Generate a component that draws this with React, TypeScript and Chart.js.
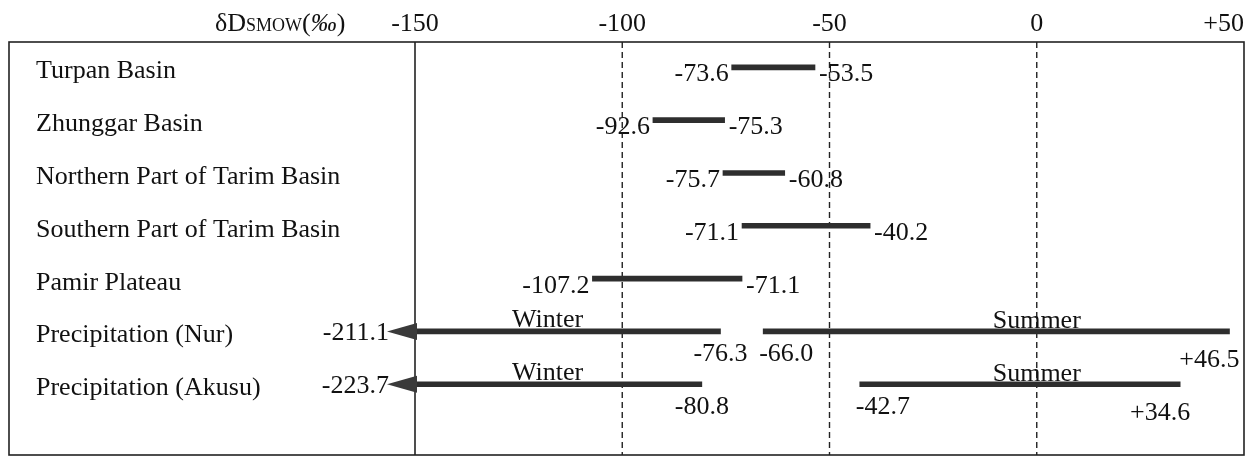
import React, { useEffect, useRef } from "react";
import { Chart, registerables } from "chart.js";

Chart.register(...registerables);

// ---- data ----
const categories = [
  "Turpan Basin",
  "Zhunggar Basin",
  "Northern Part of Tarim Basin",
  "Southern Part of Tarim Basin",
  "Pamir Plateau",
  "Precipitation (Nur)",
  "Precipitation (Akusu)",
];
const rangeLow = [-73.6, -92.6, -75.7, -71.1, -107.2];
const rangeHigh = [-53.5, -75.3, -60.8, -40.2, -71.1];
const winterLow = [-211.1, -223.7];
const winterHigh = [-76.3, -80.8];
const summerLow = [-66.0, -42.7];
const summerHigh = [46.5, 34.6];
const seasonNames = ["Winter", "Summer"];
const seasonLabelX = [-118, 0];
const xTicks = [-150, -100, -50, 0, 50];
const xTickLabels = ["-150", "-100", "-50", "0", "+50"];
const axisMin = -150;
const axisMax = 50;

const SERIF = '"Liberation Serif", "DejaVu Serif", serif';
const FS = 26;
const INK = "#111";
const BAR = "#2e2e2e";

const fmt = (v: number) => (v > 0 ? "+" + v.toFixed(1) : v.toFixed(1));

const decoPlugin = {
  id: "deco",
  beforeDatasetsDraw(chart: any) {
    const { ctx, chartArea } = chart;
    const xs = chart.scales.x;
    const boxLeft = 9;
    ctx.save();
    ctx.strokeStyle = "#222";
    ctx.lineWidth = 1.6;
    ctx.strokeRect(boxLeft, chartArea.top, chartArea.right - boxLeft, chartArea.bottom - chartArea.top);
    xTicks.forEach((t) => {
      const px = xs.getPixelForValue(t);
      if (t === axisMax) return;
      ctx.beginPath();
      if (t === axisMin) {
        ctx.setLineDash([]);
        ctx.lineWidth = 1.6;
      } else {
        ctx.setLineDash([6, 4]);
        ctx.lineWidth = 1.4;
      }
      ctx.moveTo(px, chartArea.top);
      ctx.lineTo(px, chartArea.bottom);
      ctx.stroke();
    });
    ctx.restore();
  },
  afterDatasetsDraw(chart: any) {
    const { ctx, chartArea } = chart;
    const xs = chart.scales.x;
    const ys = chart.scales.y;
    ctx.save();
    ctx.fillStyle = INK;
    ctx.textBaseline = "alphabetic";
    const font = (s = FS, style = "") => `${style} ${s}px ${SERIF}`.trim();
    const text = (s: string, x: number, y: number, align: CanvasTextAlign) => {
      ctx.textAlign = align;
      ctx.fillText(s, x, y);
    };
    ctx.font = font();

    // tick labels
    const tickBase = chartArea.top - 11;
    xTicks.forEach((t, i) => {
      const px = xs.getPixelForValue(t);
      if (t === axisMax) text(xTickLabels[i], chartArea.right, tickBase, "right");
      else text(xTickLabels[i], px, tickBase, "center");
    });

    // title δD_SMOW(‰)
    let tx = 215;
    ctx.textAlign = "left";
    ctx.font = font();
    ctx.fillText("δD", tx, tickBase);
    tx += ctx.measureText("δD").width;
    ctx.font = font(18);
    ctx.fillText("SMOW", tx, tickBase);
    tx += ctx.measureText("SMOW").width;
    ctx.font = font();
    ctx.fillText("(", tx, tickBase);
    tx += ctx.measureText("(").width;
    ctx.font = font(FS, "italic");
    ctx.fillText("‰", tx, tickBase);
    tx += ctx.measureText("‰").width;
    ctx.font = font();
    ctx.fillText(")", tx, tickBase);

    // category labels
    categories.forEach((c, i) => {
      const py = ys.getPixelForValue(i + 1);
      text(c, 36, py + 11, "left");
    });

    // range labels
    rangeLow.forEach((lo, i) => {
      const py = ys.getPixelForValue(i + 1);
      text(fmt(lo), xs.getPixelForValue(lo) - 3, py + 14, "right");
      text(fmt(rangeHigh[i]), xs.getPixelForValue(rangeHigh[i]) + 4, py + 14, "left");
    });

    // precipitation rows
    winterLow.forEach((lo, i) => {
      const py = ys.getPixelForValue(6 + i);
      if (lo < axisMin) {
        const x0 = xs.getPixelForValue(axisMin) + 2;
        const tip = x0 - 30;
        ctx.fillStyle = "#3a3a3a";
        ctx.beginPath();
        ctx.moveTo(tip, py);
        ctx.lineTo(x0, py - 8.5);
        ctx.lineTo(x0, py + 8.5);
        ctx.closePath();
        ctx.fill();
        ctx.fillStyle = INK;
        ctx.font = font();
        text(fmt(lo), tip + 2, py + 9, "right");
      }
      ctx.font = font();
      text(fmt(winterHigh[i]), xs.getPixelForValue(winterHigh[i]), py + 30, "center");
      text(fmt(summerLow[i]), xs.getPixelForValue(summerLow[i]) - 4, py + 30, "left");
      text(fmt(summerHigh[i]), xs.getPixelForValue(summerHigh[i]) + 10, py + 36, "right");
      text(seasonNames[0], xs.getPixelForValue(seasonLabelX[0]), py - 4, "center");
      text(seasonNames[1], xs.getPixelForValue(seasonLabelX[1]), py - 3, "center");
    });
    ctx.restore();
  },
};

export default function App() {
  const ref = useRef<HTMLCanvasElement | null>(null);
  useEffect(() => {
    document.body.style.margin = "0";
    const canvas = ref.current;
    if (!canvas) return;
    const common = {
      backgroundColor: BAR,
      borderWidth: 0,
      barThickness: 5,
      grouped: false,
      clip: 0,
    };
    const chart = new Chart(canvas, {
      type: "bar",
      data: {
        datasets: [
          {
            label: "Range",
            data: rangeLow.map((lo, i) => ({ x: [lo, rangeHigh[i]], y: i + 1 })),
            ...common,
          },
          {
            label: "Winter",
            data: winterLow.map((lo, i) => ({ x: [lo, winterHigh[i]], y: 6 + i })),
            ...common,
          },
          {
            label: "Summer",
            data: summerLow.map((lo, i) => ({ x: [lo, summerHigh[i]], y: 6 + i })),
            ...common,
          },
        ] as any,
      },
      options: {
        indexAxis: "y",
        responsive: false,
        animation: false,
        devicePixelRatio: 1,
        layout: { padding: { left: 415, right: 10, top: 42, bottom: 4 } },
        scales: {
          x: { type: "linear", min: axisMin, max: axisMax, display: false, offset: false },
          y: {
            type: "linear",
            min: 0.52,
            max: 8.34,
            reverse: true,
            display: false,
            offset: false,
            grid: { offset: false },
          },
        },
        plugins: { legend: { display: false }, tooltip: { enabled: false } },
      } as any,
      plugins: [decoPlugin as any],
    });
    return () => chart.destroy();
  }, []);
  return (
    <div style={{ width: 1254, height: 459, background: "#fff" }}>
      <canvas ref={ref} width={1254} height={459} style={{ display: "block" }} />
    </div>
  );
}
